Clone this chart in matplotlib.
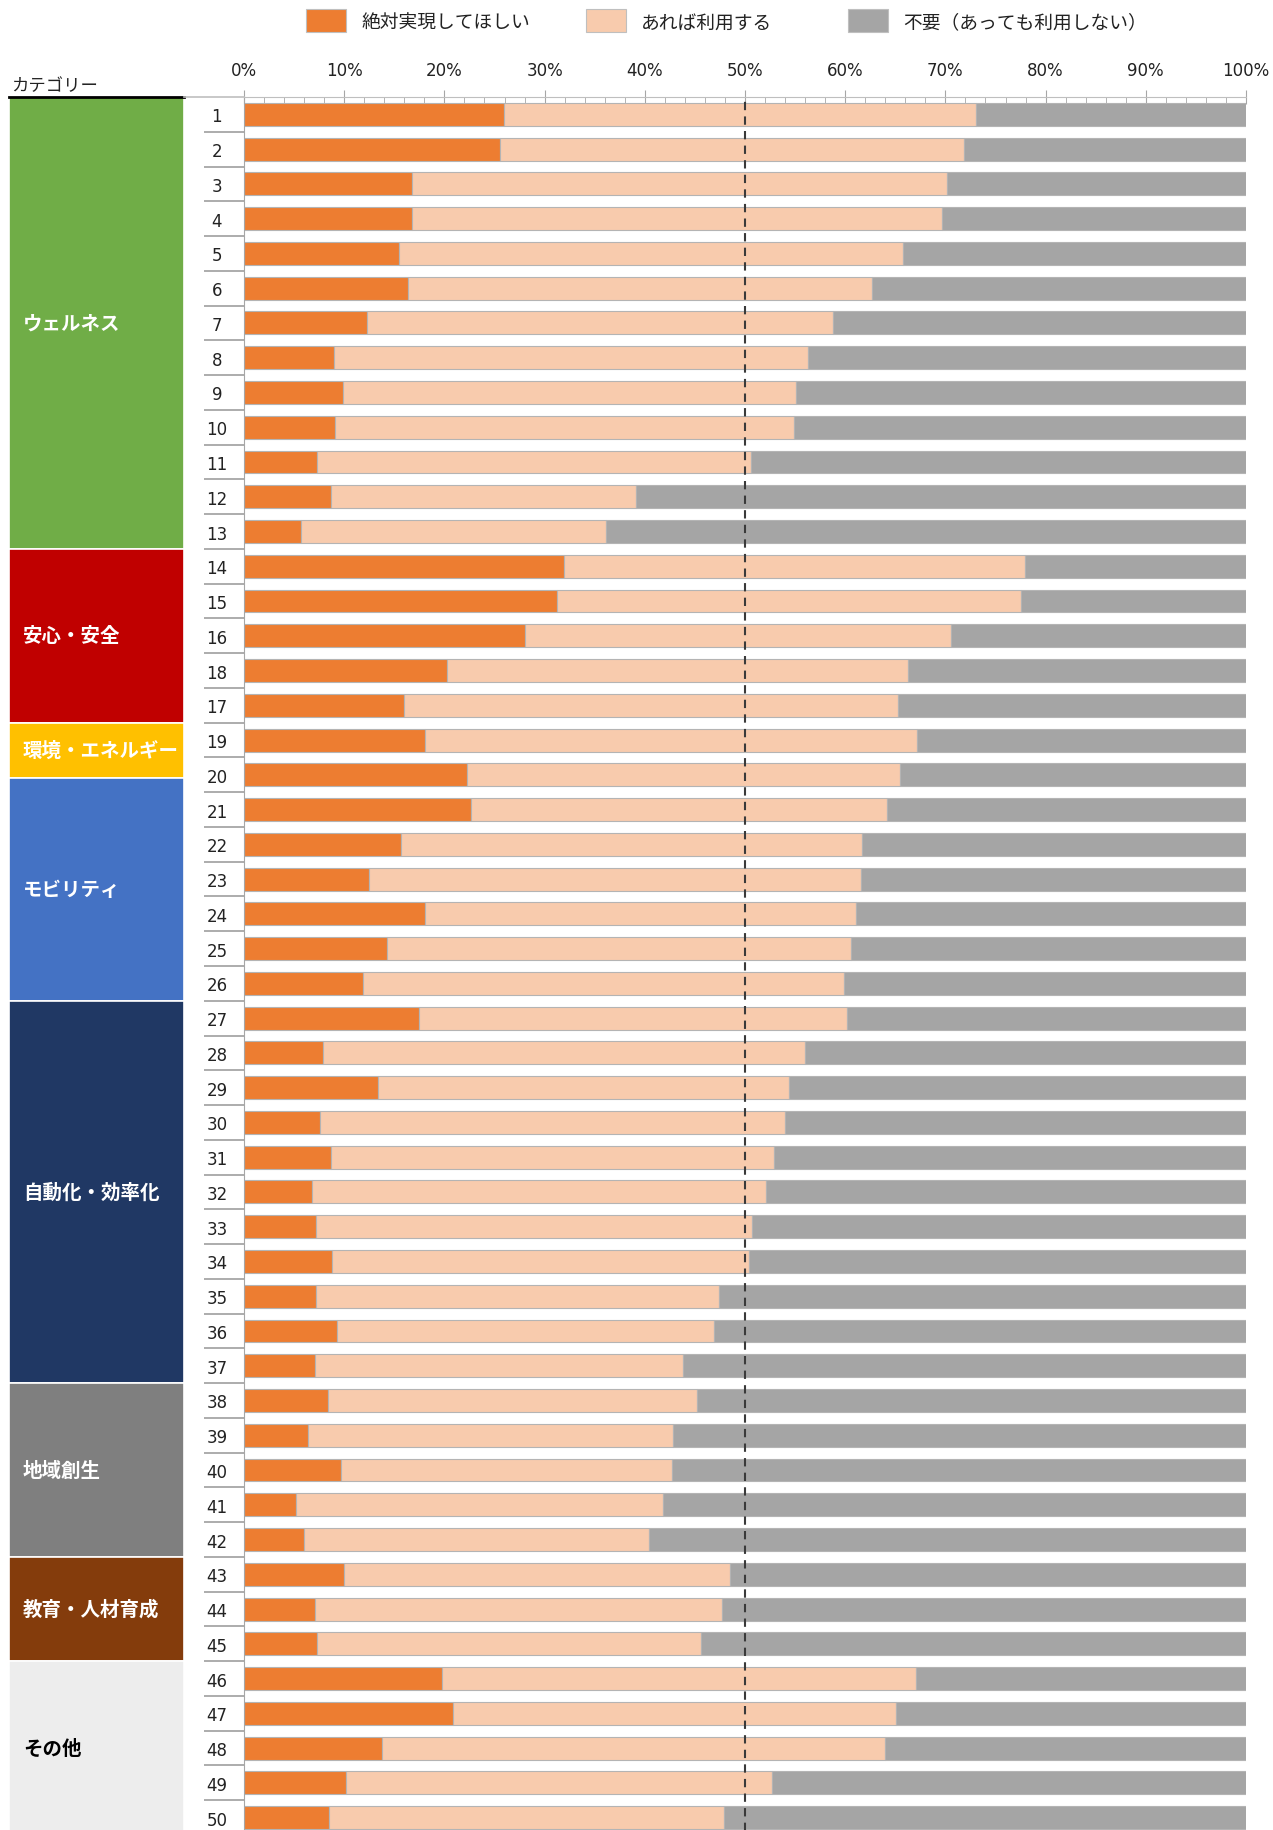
import numpy as np
import matplotlib
matplotlib.use("Agg")
import matplotlib.pyplot as plt
from matplotlib.patches import Rectangle
from matplotlib.lines import Line2D

plt.rcParams['font.family'] = ['DejaVu Sans', 'Noto Sans CJK JP']
JP = ['Noto Sans CJK JP', 'DejaVu Sans']

# item numbers, top to bottom
item_ids = [1, 2, 3, 4, 5, 6, 7, 8, 9, 10, 11, 12, 13,
            14, 15, 16, 18, 17,
            19, 20, 21, 22, 23, 24, 25, 26,
            27, 28, 29, 30, 31, 32, 33, 34, 35, 36, 37,
            38, 39, 40, 41, 42,
            43, 44, 45,
            46, 47, 48, 49, 50]

# percentages
must_have = [25.9, 25.5, 16.8, 16.8, 15.5, 16.4, 12.3, 9.0, 9.9, 9.1, 7.3, 8.7, 5.7,
             31.9, 31.2, 28.0, 20.3, 16.0,
             18.1, 22.3, 22.7, 15.7, 12.5, 18.1, 14.3, 11.9,
             17.5, 7.9, 13.4, 7.6, 8.7, 6.8, 7.2, 8.8, 7.2, 9.3, 7.1,
             8.4, 6.4, 9.7, 5.2, 6.0,
             10.0, 7.1, 7.3,
             19.8, 20.9, 13.8, 10.2, 8.5]
would_use = [47.2, 46.4, 53.4, 52.9, 50.3, 46.3, 46.5, 47.3, 45.2, 45.8, 43.3, 30.4, 30.4,
             46.0, 46.3, 42.6, 46.0, 49.3,
             49.1, 43.2, 41.5, 46.0, 49.1, 43.0, 46.3, 48.0,
             42.7, 48.1, 41.0, 46.4, 44.2, 45.3, 43.5, 41.6, 40.2, 37.6, 36.7,
             36.8, 36.4, 33.0, 36.6, 34.4,
             38.5, 40.6, 38.3,
             47.3, 44.2, 50.2, 42.5, 39.4]
not_needed = [26.9, 28.1, 29.8, 30.3, 34.2, 37.3, 41.2, 43.7, 44.9, 45.1, 49.4, 60.9, 63.9,
              22.1, 22.5, 29.4, 33.7, 34.7,
              32.8, 34.5, 35.8, 38.3, 38.4, 38.9, 39.4, 40.1,
              39.8, 44.0, 45.6, 46.0, 47.1, 47.9, 49.3, 49.6, 52.6, 53.1, 56.2,
              54.8, 57.2, 57.3, 58.2, 59.6,
              51.5, 52.3, 54.4,
              32.9, 34.9, 36.0, 47.3, 52.1]

series_names = ['絶対実現してほしい', 'あれば利用する', '不要（あっても利用しない）']
series_colors = ['#ED7D31', '#F8CBAD', '#A5A5A5']

# category bands (span in rows, as drawn)
cat_names = ['ウェルネス', '安心・安全', '環境・エネルギー', 'モビリティ',
             '自動化・効率化', '地域創生', '教育・人材育成', 'その他']
cat_spans = [13, 5, 1.6, 6.4, 11, 5, 3, 5]
cat_colors = ['#70AD47', '#C00000', '#FFC000', '#4472C4',
              '#203864', '#7F7F7F', '#843C0C', '#EDEDED']
cat_text = ['white'] * 7 + ['black']

W, H = 1273, 1831
fig = plt.figure(figsize=(W / 100, H / 100), dpi=100)

top_px = 98
row_px = 34.76
n = len(item_ids)
bot_px = top_px + n * row_px
ax_rect_y = 1 - bot_px / H
ax_rect_h = (bot_px - top_px) / H

ax = fig.add_axes([244 / W, ax_rect_y, (1246 - 244) / W, ax_rect_h])
y = np.arange(n)
left = np.zeros(n)
for vals, c in zip([must_have, would_use, not_needed], series_colors):
    ax.barh(y, vals, left=left, height=0.66, color=c,
            edgecolor='#B4B4B4', linewidth=0.8, zorder=2)
    left = left + np.array(vals)

ax.axvline(50, color='#3A3A3A', ls=(0, (4, 3)), lw=1.5, zorder=5)

ax.set_xlim(0, 100)
ax.set_ylim(n - 0.5, -0.5)
ax.xaxis.tick_top()
ax.set_xticks(np.arange(0, 101, 10))
ax.set_xticklabels([f'{v}%' for v in range(0, 101, 10)])
ax.set_xticks(np.arange(0, 101, 2), minor=True)
ax.tick_params(axis='x', which='major', direction='inout', length=10,
               color='#A6A6A6', labelsize=12, pad=8, labelcolor='#222222')
ax.tick_params(axis='x', which='minor', direction='in', length=5, color='#A6A6A6')

ax.set_yticks(y)
ax.set_yticklabels([str(i) for i in item_ids])
ax.set_yticks(np.arange(n - 1) + 0.5, minor=True)
ax.tick_params(axis='y', which='major', length=0, labelsize=12, pad=19.5,
               labelcolor='#222222')
ax.tick_params(axis='y', which='minor', direction='out', length=29,
               width=1.3, color='#A6A6A6')
for lbl in ax.get_yticklabels():
    lbl.set_horizontalalignment('center')

for s in ['right', 'bottom']:
    ax.spines[s].set_visible(False)
ax.spines['top'].set_color('#BFBFBF')
ax.spines['left'].set_color('#A6A6A6')

# category column
cax = fig.add_axes([9 / W, ax_rect_y, (184 - 9) / W, ax_rect_h])
cax.set_xlim(0, 1)
cax.set_ylim(n - 0.5, -0.5)
cax.axis('off')
start = -0.5
for name, span, col, tc in zip(cat_names, cat_spans, cat_colors, cat_text):
    cax.barh(start + span / 2, 1, height=span, left=0, color=col,
             edgecolor='white', linewidth=1.2)
    cax.text(0.08, start + span / 2, name, color=tc, fontsize=14,
             fontweight='bold', va='center', ha='left', family=JP)
    start += span
cax.plot([0, 1], [-0.5, -0.5], color='black', lw=2, clip_on=False)

fig.add_artist(Line2D([184 / W, 244 / W], [1 - top_px / H] * 2,
                      color='#BFBFBF', lw=1.2))
fig.text(11 / W, 1 - 86 / H, 'カテゴリー', fontsize=12.5, va='center',
         ha='left', family=JP, color='#222222')

# legend
leg_x = [306, 586, 848]
for lx, name, c in zip(leg_x, series_names, series_colors):
    fig.add_artist(Rectangle((lx / W, 1 - 33 / H), 40 / W, 23 / H,
                             facecolor=c, edgecolor='#BFBFBF', lw=0.8,
                             transform=fig.transFigure))
    fig.text((lx + 55) / W, 1 - 23 / H, name, fontsize=13.5, va='center',
             ha='left', family=JP, color='#222222')

fig.savefig('out.png', dpi=100)
